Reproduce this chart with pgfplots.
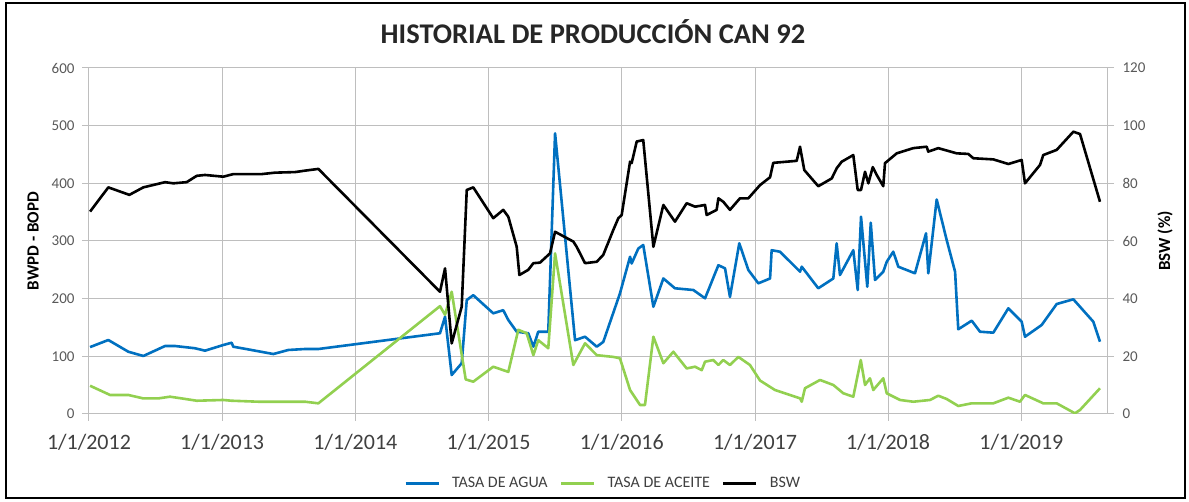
\documentclass[border=0pt]{standalone}
\usepackage{fontspec}
\setmainfont{Carlito}
\usepackage{pgfplots}
\usepackage{pgfplotstable}
\pgfplotsset{compat=1.18}

\definecolor{agua}{RGB}{0,112,192}
\definecolor{aceite}{RGB}{146,208,80}
\definecolor{gridc}{RGB}{190,190,190}
\definecolor{tickc}{RGB}{89,89,89}

% x = fecha en años decimales, y = tasa (BPD)
\pgfplotstableread{
x y
2012.008 116
2012.145 128.3
2012.295 108
2012.408 100.6
2012.571 117.9
2012.646 117.9
2012.796 114
2012.871 109.8
2013.008 119.6
2013.071 123.6
2013.083 116.7
2013.196 112
2013.384 104
2013.496 111
2013.622 112.7
2013.722 112.7
2014.635 140
2014.673 168.7
2014.723 67.6
2014.798 88
2014.836 197.7
2014.885 206
2015.035 174.6
2015.110 180
2015.148 163
2015.211 142.7
2015.298 140
2015.336 116.7
2015.373 142.7
2015.448 142.7
2015.499 486.7
2015.649 128
2015.724 134
2015.812 116.7
2015.861 125
2015.986 209
2016.062 272.7
2016.074 261
2016.124 287
2016.161 293
2016.237 186
2016.312 235
2016.399 218
2016.537 215
2016.625 200.6
2016.725 258
2016.775 252.6
2016.812 203
2016.882 296
2016.950 249.7
2017.025 226.6
2017.113 235
2017.125 284
2017.188 281.4
2017.338 246.8
2017.351 255.4
2017.475 218
2017.588 235
2017.613 296
2017.638 241
2017.738 284
2017.771 215
2017.796 342
2017.843 220.7
2017.869 331.7
2017.901 232.4
2017.963 246.8
2017.989 264
2018.038 281.4
2018.076 255.4
2018.201 244
2018.284 313.3
2018.301 244
2018.364 372
2018.439 301.7
2018.502 246.8
2018.526 146.9
2018.627 161.8
2018.689 142.7
2018.789 141
2018.902 183.3
2019.002 160
2019.027 134
2019.152 154.3
2019.265 190.7
2019.390 198.9
2019.540 160
2019.590 125.4
}\agua

\pgfplotstableread{
x y
2012.008 49
2012.158 33
2012.295 33
2012.408 27
2012.520 27
2012.608 30
2012.696 27
2012.809 23
2013.008 24.3
2013.071 23
2013.271 21.3
2013.622 21.3
2013.722 18.5
2014.635 187
2014.673 172
2014.723 212
2014.828 60
2014.885 56
2015.035 82
2015.148 73
2015.223 146
2015.286 140
2015.336 102
2015.373 128
2015.448 114
2015.499 278.6
2015.636 85
2015.724 122.6
2015.812 102
2015.936 99
2015.986 96.6
2016.062 41.6
2016.137 15.6
2016.174 15.6
2016.237 134
2016.312 88
2016.387 108
2016.487 79
2016.550 82
2016.600 76
2016.625 90.7
2016.687 93.6
2016.725 85
2016.762 93.6
2016.812 85
2016.875 99
2016.962 85
2017.038 58
2017.150 41.6
2017.338 27.2
2017.351 21.3
2017.375 44.6
2017.488 59
2017.588 50.3
2017.663 35.9
2017.738 30
2017.794 93.6
2017.826 50.3
2017.863 61.9
2017.888 41.6
2017.963 61.9
2017.989 35.9
2018.089 24.3
2018.188 21.3
2018.314 24.3
2018.376 31.7
2018.439 26
2018.526 13.9
2018.627 18.5
2018.789 18.5
2018.902 28.3
2018.989 21.3
2019.027 33
2019.164 18.5
2019.265 18.5
2019.402 1.2
2019.440 7
2019.590 44.6
}\aceite

% BSW en %
\pgfplotstableread{
x y
2012.008 70.2
2012.145 78.6
2012.303 76.0
2012.408 78.6
2012.571 80.4
2012.633 80.0
2012.733 80.4
2012.809 82.6
2012.871 82.9
2013.008 82.3
2013.083 83.2
2013.297 83.2
2013.396 83.7
2013.547 83.9
2013.622 84.4
2013.722 85.0
2014.635 42.4
2014.673 50.5
2014.723 24.5
2014.798 37.2
2014.836 77.7
2014.885 78.6
2015.035 67.9
2015.110 70.8
2015.148 68.4
2015.211 58.0
2015.231 48.2
2015.298 50.0
2015.336 52.3
2015.386 52.5
2015.461 55.7
2015.499 63.2
2015.636 59.8
2015.661 58.0
2015.724 52.3
2015.812 52.8
2015.861 55.2
2015.936 63.8
2015.974 67.9
2015.999 69.0
2016.062 87.5
2016.074 87.0
2016.112 94.5
2016.161 95.0
2016.237 58.0
2016.312 72.5
2016.399 66.7
2016.487 73.1
2016.550 71.9
2016.625 72.5
2016.637 69.0
2016.712 70.8
2016.725 74.8
2016.762 73.6
2016.812 70.8
2016.887 74.8
2016.950 74.8
2017.038 79.4
2017.113 82.1
2017.137 87.1
2017.313 87.8
2017.338 92.7
2017.370 84.6
2017.475 79.0
2017.576 81.7
2017.613 85.2
2017.651 87.5
2017.738 89.8
2017.771 77.7
2017.796 77.7
2017.826 84.0
2017.851 80.0
2017.884 85.6
2017.914 82.9
2017.963 79.0
2017.976 87.0
2018.064 90.4
2018.188 92.2
2018.289 92.7
2018.301 91.0
2018.376 92.2
2018.514 90.4
2018.601 90.2
2018.639 88.7
2018.789 88.3
2018.902 86.7
2019.002 88.1
2019.027 80.0
2019.140 86.4
2019.164 89.8
2019.265 91.6
2019.390 97.9
2019.440 97.1
2019.590 73.6
}\bsw

\begin{document}
\begin{tikzpicture}
\pgfplotsset{
  base/.style={
    scale only axis,
    width=1018pt, height=346pt,
    at={(0pt,0pt)}, anchor=south west,
    xmin=2012, xmax=2019.643,
    /pgf/number format/assume math mode=true,
    tick align=outside,
    major tick length=7pt,
    tick style={gridc, line width=1pt},
    axis line style={gridc, line width=1pt},
  },
}
\begin{axis}[base,
    ymin=0, ymax=600,
    ytick={0,100,...,600},
    xtick={2012,2013,...,2019},
    xticklabels={1/1/2012,1/1/2013,1/1/2014,1/1/2015,1/1/2016,1/1/2017,1/1/2018,1/1/2019},
    axis x line*=bottom,
    axis y line*=left,
    grid=major,
    major grid style={gridc, line width=1pt},
    yticklabel style={font=\fontsize{15}{18}\selectfont, text=tickc, xshift=-4pt},
    xticklabel style={font=\fontsize{22}{26}\selectfont, text=black!75, yshift=-10pt},
    ylabel={\textbf{BWPD - BOPD}},
    ylabel style={font=\fontsize{17}{20}\selectfont, at={(axis description cs:-0.046,0.5)}, anchor=south},
    legend style={at={(axis description cs:0.505,-0.2)}, anchor=center, draw=none,
      font=\fontsize{16}{19}\selectfont, text=black!75, column sep=10pt},
    legend columns=3,
    legend image code/.code={\draw[#1, line width=3pt] (0pt,0pt) -- (33pt,0pt);},
  ]
  \addplot[agua, line width=2.6pt, line join=round] table[x=x, y=y] {\agua};
  \addlegendentry{TASA DE AGUA}
  \addplot[aceite, line width=2.6pt, line join=round] table[x=x, y=y] {\aceite};
  \addlegendentry{TASA DE ACEITE}
  \addlegendimage{black}
  \addlegendentry{BSW}
\end{axis}
\begin{axis}[base,
    ymin=0, ymax=120,
    ytick={0,20,...,120},
    axis x line=none,
    axis y line*=right,
    yticklabel style={font=\fontsize{15}{18}\selectfont, text=tickc, xshift=5pt},
    ylabel={\textbf{BSW (\%)}},
    ylabel style={font=\fontsize{17}{20}\selectfont, at={(axis description cs:1.046,0.5)}, anchor=north},
  ]
  \addplot[black, line width=2.6pt, line join=round] table[x=x, y=y] {\bsw};
\end{axis}
\node[font=\bfseries\fontsize{28.5}{33}\selectfont, text=black!85] at (504pt,382pt) {HISTORIAL DE PRODUCCIÓN CAN 92};
\draw[black, line width=2pt] (-82.5pt,-84pt) rectangle (1096pt,411pt);
\pgfresetboundingbox
\useasboundingbox (-89pt,-88pt) rectangle (1100pt,414pt);
\end{tikzpicture}
\end{document}
